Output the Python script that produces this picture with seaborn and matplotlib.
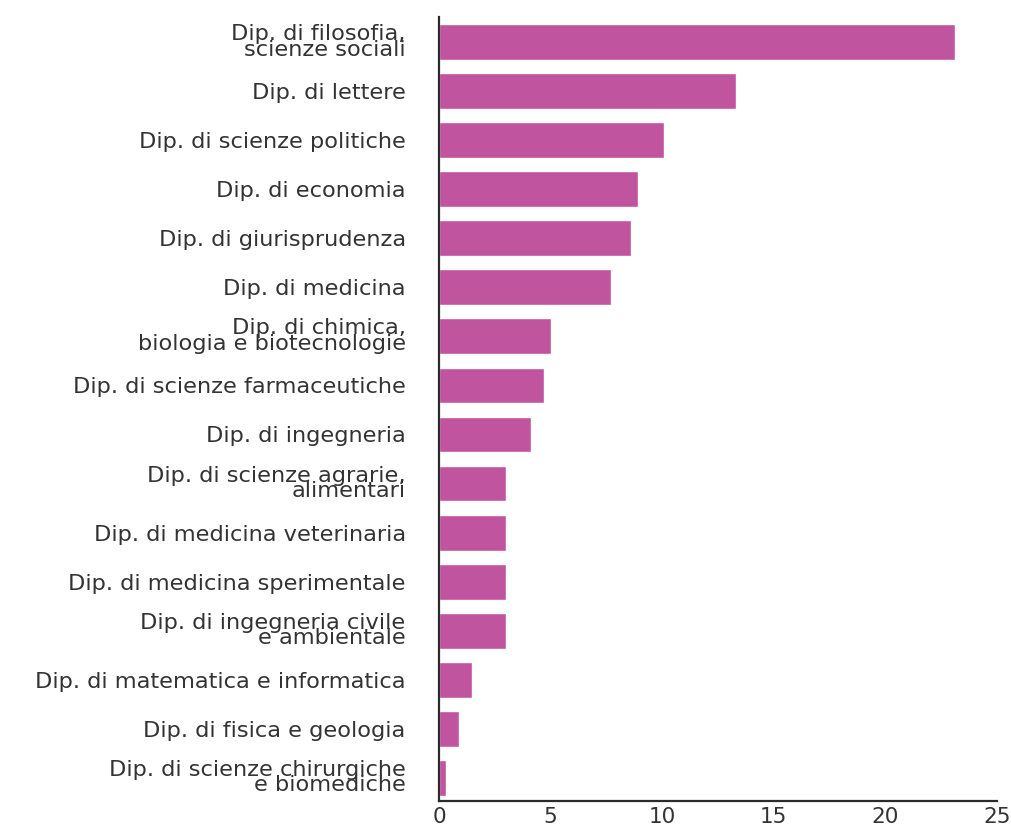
import matplotlib
matplotlib.use("Agg")
import matplotlib.pyplot as plt
import seaborn as sns
import pandas as pd

departments = [
    "Dip. di filosofia,\nscienze sociali",
    "Dip. di lettere",
    "Dip. di scienze politiche",
    "Dip. di economia",
    "Dip. di giurisprudenza",
    "Dip. di medicina",
    "Dip. di chimica,\nbiologia e biotecnologie",
    "Dip. di scienze farmaceutiche",
    "Dip. di ingegneria",
    "Dip. di scienze agrarie,\nalimentari",
    "Dip. di medicina veterinaria",
    "Dip. di medicina sperimentale",
    "Dip. di ingegneria civile\ne ambientale",
    "Dip. di matematica e informatica",
    "Dip. di fisica e geologia",
    "Dip. di scienze chirurgiche\ne biomediche",
]
values = [23.1, 13.3, 10.1, 8.9, 8.6, 7.7, 5.0, 4.7, 4.1, 3.0, 3.0, 3.0, 3.0, 1.5, 0.9, 0.3]
x_ticks = [0, 5, 10, 15, 20, 25]

sns.set_theme(style="white")
plt.rcParams["font.family"] = ["DejaVu Sans"]

df = pd.DataFrame({"dept": departments, "value": values})

fig = plt.figure(figsize=(10.11, 8.32), dpi=100)
ax = fig.add_axes([0.4342, 0.0373, 0.9862 - 0.4342, 0.9796 - 0.0373])

sns.barplot(data=df, x="value", y="dept", orient="h", color="#C0549E",
            saturation=1, width=0.73, ax=ax)

ax.set_xlim(0, 25)
ax.set_ylim(15.47, -0.51)
ax.set_xticks(x_ticks)
ax.set_xticklabels([str(t) for t in x_ticks])
ax.set_xlabel("")
ax.set_ylabel("")

for s in ["top", "right"]:
    ax.spines[s].set_visible(False)
for s in ["left", "bottom"]:
    ax.spines[s].set_color("#2b2b2b")
    ax.spines[s].set_linewidth(1.6)

ax.tick_params(axis="x", direction="in", length=15, width=1.6, color="#2b2b2b",
               labelsize=15.5, labelcolor="#333333", pad=4)
ax.tick_params(axis="y", length=0, labelsize=16.2, labelcolor="#333333", pad=24)
for lbl in ax.get_yticklabels():
    lbl.set_linespacing(0.72)

fig.savefig("out.png", dpi=100, facecolor="white")
